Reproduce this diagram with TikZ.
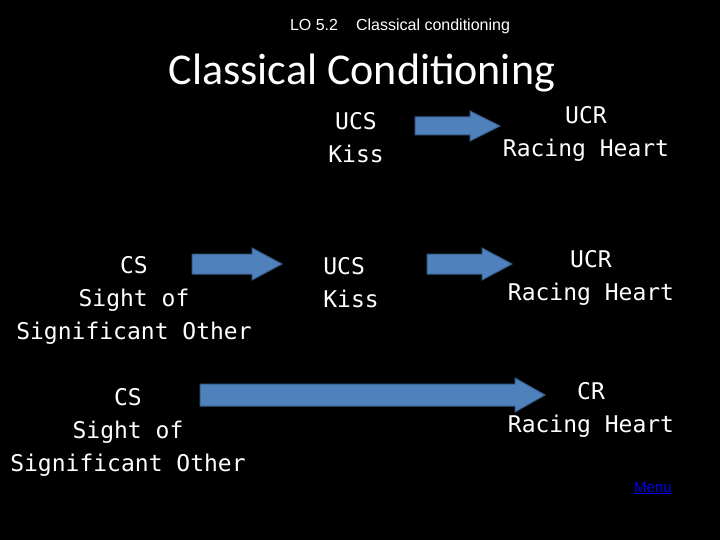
\documentclass[tikz,border=0pt]{standalone}
\usepackage{fontspec}
\setmainfont{DejaVu Sans Mono}
\newfontfamily\arialf{Liberation Sans}
\newfontfamily\calib{Carlito}
\definecolor{ablue}{HTML}{4F81BD}
\definecolor{aedge}{HTML}{385D8A}
\definecolor{mblue}{HTML}{0000EE}
\newcommand{\blockarrow}[5]{% x1, ymid, x2, half body, half head
  \filldraw[barrow] (#1,#2-#4) -- (#3-30,#2-#4) -- (#3-30,#2-#5) -- (#3,#2) -- (#3-30,#2+#5) -- (#3-30,#2+#4) -- (#1,#2+#4) -- cycle;}
\begin{document}
\begin{tikzpicture}[x=1pt,y=-1pt,
  txt/.style={text=white,font=\fontsize{23}{33}\selectfont,align=center,inner sep=0},
  barrow/.style={fill=ablue,draw=aedge,line width=1pt}]
\fill[black] (0,0) rectangle (720,540);
\useasboundingbox (0,0) rectangle (720,540);
\node[text=white,font=\arialf\fontsize{16}{18}\selectfont] (lo) at (400,26) {LO 5.2\hspace{18pt}Classical conditioning};
\node[text=white,font=\calib\fontsize{44}{48}\selectfont] (title) at (362,73) {Classical Conditioning};
\node[txt] (ucs1) at (356,138) {UCS\\Kiss};
\node[txt] (ucr1) at (586,134) {UCR\\Racing Heart};
\node[txt] (cs1) at (134,300) {CS\\Sight of\\Significant Other};
\node[txt,align=left] (ucs2) at (351,283) {UCS\\Kiss};
\node[txt] (ucr2) at (591,278) {UCR\\Racing Heart};
\node[txt] (cs2) at (128,432) {CS\\Sight of\\Significant Other};
\node[txt] (cr) at (591,410) {CR\\Racing Heart};
\node[text=mblue,font=\arialf\fontsize{15}{17}\selectfont] (menu) at (653,488) {\underline{Menu}};
\blockarrow{415}{126}{500}{9}{15}
\blockarrow{192}{264}{282}{10}{16}
\blockarrow{427}{264}{512}{10}{16}
\blockarrow{200}{395}{545}{11}{17}
\end{tikzpicture}
\end{document}
